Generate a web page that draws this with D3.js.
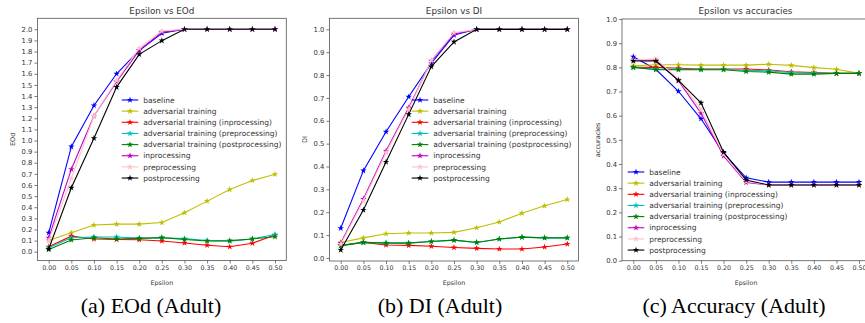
<!DOCTYPE html>
<html>
<head>
<meta charset="utf-8">
<script src="https://cdn.jsdelivr.net/npm/d3@7"></script>
<style>
  body { margin: 0; background: #fff; }
  svg { display: block; }
  text { font-family: "DejaVu Sans", sans-serif; fill: #333; }
  .caption { font-family: "Liberation Serif", serif; fill: #000; }
</style>
</head>
<body>
<div id="chart"></div>
<script>
var epsilon = [0, 0.05, 0.10, 0.15, 0.20, 0.25, 0.30, 0.35, 0.40, 0.45, 0.50];

var seriesNames = [
  "baseline",
  "adversarial training",
  "adversarial training (inprocessing)",
  "adversarial training (preprocessing)",
  "adversarial training (postprocessing)",
  "inprocessing",
  "preprocessing",
  "postprocessing"
];
var seriesColors = ["#0000ff", "#bfbf00", "#ff0000", "#00bfbf", "#008000", "#bf00bf", "#ffc0cb", "#000000"];

// EOd (Adult)
var eodBaseline = [0.17, 0.945, 1.315, 1.60, 1.81, 1.965, 2.0, 2.0, 2.0, 2.0, 2.0];
var eodAdv      = [0.10, 0.17, 0.24, 0.248, 0.248, 0.262, 0.35, 0.455, 0.56, 0.64, 0.697];
var eodAdvIn    = [0.045, 0.14, 0.115, 0.11, 0.108, 0.097, 0.079, 0.058, 0.045, 0.076, 0.15];
var eodAdvPre   = [0.035, 0.125, 0.133, 0.133, 0.122, 0.125, 0.118, 0.10, 0.094, 0.115, 0.155];
var eodAdvPost  = [0.02, 0.105, 0.125, 0.115, 0.12, 0.127, 0.11, 0.097, 0.10, 0.115, 0.135];
var eodIn       = [0.125, 0.742, 1.22, 1.53, 1.81, 1.975, 2.0, 2.0, 2.0, 2.0, 2.0];
var eodPre      = [0.10, 0.66, 1.22, 1.54, 1.83, 1.985, 2.0, 2.0, 2.0, 2.0, 2.0];
var eodPost     = [0.025, 0.575, 1.02, 1.48, 1.775, 1.898, 2.0, 2.0, 2.0, 2.0, 2.0];

// DI (Adult)
var diBaseline = [0.13, 0.382, 0.552, 0.705, 0.852, 0.975, 1.0, 1.0, 1.0, 1.0, 1.0];
var diAdv      = [0.068, 0.088, 0.106, 0.109, 0.109, 0.112, 0.132, 0.157, 0.196, 0.228, 0.256];
var diAdvIn    = [0.055, 0.068, 0.057, 0.055, 0.051, 0.046, 0.042, 0.039, 0.039, 0.048, 0.061];
var diAdvPre   = [0.054, 0.068, 0.066, 0.066, 0.072, 0.078, 0.068, 0.083, 0.091, 0.088, 0.088];
var diAdvPost  = [0.054, 0.068, 0.065, 0.065, 0.072, 0.078, 0.068, 0.083, 0.091, 0.088, 0.088];
var diIn       = [0.065, 0.258, 0.468, 0.657, 0.862, 0.98, 1.0, 1.0, 1.0, 1.0, 1.0];
var diPre      = [0.06, 0.25, 0.46, 0.65, 0.865, 0.985, 1.0, 1.0, 1.0, 1.0, 1.0];
var diPost     = [0.035, 0.21, 0.42, 0.628, 0.837, 0.945, 1.0, 1.0, 1.0, 1.0, 1.0];

// Accuracy (Adult)
var accBaseline = [0.844, 0.792, 0.701, 0.587, 0.445, 0.343, 0.325, 0.325, 0.325, 0.325, 0.325];
var accAdv      = [0.806, 0.811, 0.811, 0.809, 0.809, 0.809, 0.813, 0.808, 0.799, 0.792, 0.775];
var accAdvIn    = [0.80, 0.80, 0.796, 0.793, 0.793, 0.793, 0.789, 0.782, 0.778, 0.775, 0.775];
var accAdvPre   = [0.80, 0.792, 0.792, 0.792, 0.792, 0.787, 0.786, 0.778, 0.776, 0.775, 0.775];
var accAdvPost  = [0.80, 0.79, 0.79, 0.79, 0.79, 0.783, 0.78, 0.772, 0.772, 0.775, 0.775];
var accIn       = [0.83, 0.83, 0.745, 0.61, 0.433, 0.324, 0.313, 0.313, 0.313, 0.313, 0.313];
var accPre      = [0.83, 0.835, 0.75, 0.625, 0.44, 0.328, 0.313, 0.313, 0.313, 0.313, 0.313];
var accPost     = [0.826, 0.826, 0.746, 0.653, 0.449, 0.334, 0.313, 0.313, 0.313, 0.313, 0.313];

var eodTicks = d3.range(0, 21).map(d => d / 10);
var unitTicks = d3.range(0, 11).map(d => d / 10);

var panels = [
  {
    title: "Epsilon vs EOd", ylabel: "EOd", caption: "(a) EOd (Adult)",
    series: [eodBaseline, eodAdv, eodAdvIn, eodAdvPre, eodAdvPost, eodIn, eodPre, eodPost],
    yTicks: eodTicks, fixed: null,
    left: 37.4, right: 286.3, top: 18.3, bottom: 260.5,
    ylabelX: 13, legendX: 121.7, legendY: 100, captionX: 151
  },
  {
    title: "Epsilon vs DI", ylabel: "DI", caption: "(b) DI (Adult)",
    series: [diBaseline, diAdv, diAdvIn, diAdvPre, diAdvPost, diIn, diPre, diPost],
    yTicks: unitTicks, fixed: null,
    left: 329.4, right: 578.6, top: 18.3, bottom: 261,
    ylabelX: 305, legendX: 411.7, legendY: 100, captionX: 440
  },
  {
    title: "Epsilon vs accuracies", ylabel: "accuracies", caption: "(c) Accuracy (Adult)",
    series: [accBaseline, accAdv, accAdvIn, accAdvPre, accAdvPost, accIn, accPre, accPost],
    yTicks: unitTicks, fixed: [0, 1],
    left: 622, right: 870.3, top: 19, bottom: 260.7,
    ylabelX: 597.5, legendX: 627.7, legendY: 172, captionX: 734
  }
];

var svg = d3.select("#chart").append("svg")
  .attr("width", 865)
  .attr("height", 323);

var star = d3.symbol().type(d3.symbolStar).size(13);

panels.forEach(function(p) {
  // matplotlib style 5% margins
  var x = d3.scaleLinear()
    .domain([-0.025, 0.525])
    .range([p.left, p.right]);

  var yDomain = p.fixed;
  if (!yDomain) {
    var all = d3.merge(p.series);
    var lo = d3.min(all), hi = d3.max(all), pad = (hi - lo) * 0.05;
    yDomain = [lo - pad, hi + pad];
  }
  var y = d3.scaleLinear().domain(yDomain).range([p.bottom, p.top]);

  var g = svg.append("g");

  // axes
  var xAxis = g.append("g")
    .attr("transform", `translate(0, ${p.bottom})`)
    .call(d3.axisBottom(x).tickValues(epsilon).tickFormat(d3.format(".2f")).tickSize(3).tickPadding(2));
  var yAxis = g.append("g")
    .attr("transform", `translate(${p.left}, 0)`)
    .call(d3.axisLeft(y).tickValues(p.yTicks).tickFormat(d3.format(".1f")).tickSize(3).tickPadding(2));

  [xAxis, yAxis].forEach(function(a) {
    a.select(".domain").remove();
    a.selectAll(".tick line").attr("stroke", "#444").attr("stroke-width", 0.7);
    a.selectAll(".tick text").attr("fill", "#333").style("font-family", "DejaVu Sans");
  });
  xAxis.selectAll(".tick text").style("font-size", "6.3px");
  yAxis.selectAll(".tick text").style("font-size", "6.8px");

  // frame
  g.append("rect")
    .attr("x", p.left).attr("y", p.top)
    .attr("width", p.right - p.left).attr("height", p.bottom - p.top)
    .attr("fill", "none").attr("stroke", "#555").attr("stroke-width", 0.8);

  // lines
  var line = d3.line().x((d, i) => x(epsilon[i])).y(d => y(d));
  p.series.forEach(function(values, k) {
    var sg = g.append("g");
    sg.append("path")
      .datum(values)
      .attr("d", line)
      .attr("fill", "none")
      .attr("stroke", seriesColors[k])
      .attr("stroke-width", 1.1);
    sg.selectAll("path.m")
      .data(values)
      .enter()
      .append("path")
      .attr("class", "m")
      .attr("d", star)
      .attr("transform", (d, i) => `translate(${x(epsilon[i])}, ${y(d)})`)
      .attr("fill", seriesColors[k]);
  });

  // title and axis labels
  g.append("text")
    .attr("x", (p.left + Math.min(p.right, 865)) / 2 + (p.right > 865 ? 2 : 0))
    .attr("y", 13.5)
    .attr("text-anchor", "middle")
    .style("font-size", "8.8px")
    .text(p.title);

  g.append("text")
    .attr("x", (p.left + p.right) / 2)
    .attr("y", 285)
    .attr("text-anchor", "middle")
    .style("font-size", "6.3px")
    .text("Epsilon");

  g.append("text")
    .attr("transform", `translate(${p.ylabelX}, ${(p.top + p.bottom) / 2}) rotate(-90)`)
    .attr("text-anchor", "middle")
    .attr("dy", "0.35em")
    .style("font-size", "6.5px")
    .text(p.ylabel);

  // legend
  var leg = g.append("g").attr("transform", `translate(${p.legendX}, ${p.legendY})`);
  seriesNames.forEach(function(name, k) {
    var row = leg.append("g").attr("transform", `translate(0, ${k * 11.15})`);
    row.append("line")
      .attr("x1", 0).attr("x2", 16.6)
      .attr("stroke", seriesColors[k]).attr("stroke-width", 1.1);
    row.append("path")
      .attr("d", star)
      .attr("transform", "translate(8.3, 0)")
      .attr("fill", seriesColors[k]);
    row.append("text")
      .attr("x", 21.5)
      .attr("dy", "0.35em")
      .style("font-size", "7.5px")
      .text(name);
  });

  // caption
  svg.append("text")
    .attr("class", "caption")
    .attr("x", p.captionX)
    .attr("y", 313)
    .attr("text-anchor", "middle")
    .style("font-size", "22px")
    .text(p.caption);
});
</script>
</body>
</html>
